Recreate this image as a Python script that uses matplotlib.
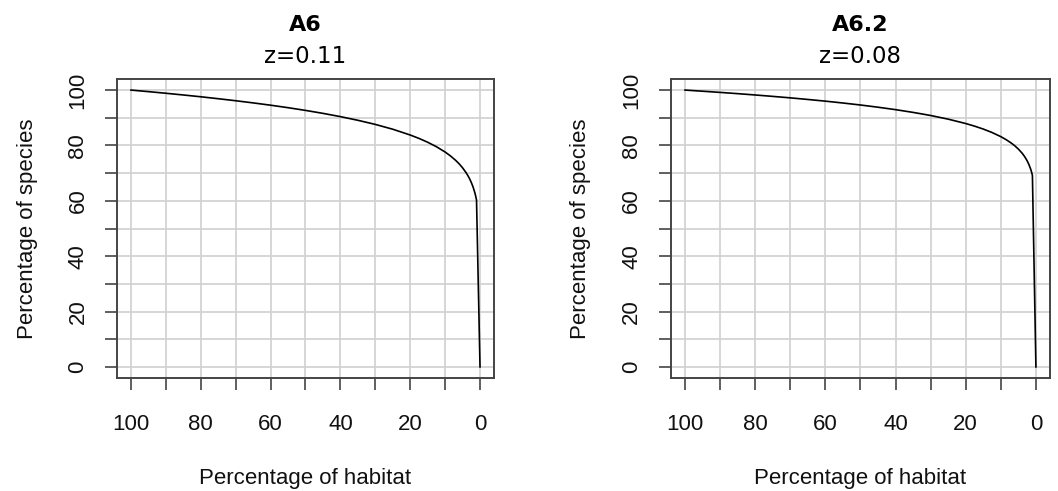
import matplotlib.pyplot as plt

plt.rcParams['font.family'] = ['Liberation Sans', 'DejaVu Sans']

# percentage of habitat (x) and percentage of species (y)
habitat = [100, 95, 90, 85, 80, 75, 70, 65, 60, 55, 50, 45, 40, 35, 30, 25, 20,
           17.5, 15, 12.5, 10, 8.5, 7, 6, 5, 4, 3.5, 3, 2.5, 2, 1.5, 1.25, 1, 0]
species_a6 = [100, 99.44, 98.85, 98.23, 97.58, 96.88, 96.15, 95.37, 94.54, 93.64,
              92.66, 91.59, 90.41, 89.09, 87.60, 85.86, 83.77, 82.55, 81.16, 79.55,
              77.63, 76.25, 74.64, 73.39, 71.93, 70.18, 69.16, 68.00, 66.64, 65.03,
              63.00, 61.75, 60.26, 0]
species_a62 = [100, 99.59, 99.16, 98.71, 98.23, 97.72, 97.19, 96.61, 96.00, 95.33,
               94.61, 93.81, 92.93, 91.94, 90.82, 89.50, 87.92, 86.98, 85.92, 84.67,
               83.18, 82.10, 80.84, 79.85, 78.69, 77.30, 76.48, 75.54, 74.45, 73.13,
               71.46, 70.43, 69.18, 0]

titles = ["A6", "A6.2"]
subtitles = ["z=0.11", "z=0.08"]
series = [species_a6, species_a62]

tick_vals = list(range(0, 101, 10))
tick_labels = [str(v) if v % 20 == 0 else "" for v in tick_vals]

fig = plt.figure(figsize=(10.58, 4.91), dpi=100)

# axes boxes in figure fractions
boxes = [[0.1106, 0.2301, 0.3563, 0.609],
         [0.6342, 0.2301, 0.3582, 0.609]]

for i in range(2):
    ax = fig.add_axes(boxes[i])
    ax.plot(habitat, series[i], color="black", lw=1.2, zorder=3)

    ax.set_xlim(104, -4)
    ax.set_ylim(-4, 104)

    ax.set_xticks(tick_vals)
    ax.set_xticklabels(tick_labels)
    ax.set_yticks(tick_vals)
    ax.set_yticklabels(tick_labels, rotation=90, va="center")

    ax.grid(True, color="#d0d0d0", lw=1.2)
    ax.set_axisbelow(True)

    ax.tick_params(axis="both", length=8.6, width=1.2, color="#444444",
                   labelsize=16, labelcolor="#111111")
    ax.tick_params(axis="x", pad=17)
    ax.tick_params(axis="y", pad=12)

    for s in ax.spines.values():
        s.set_color("#444444")
        s.set_linewidth(1.4)

    ax.text(0.5, 1.181, titles[i], transform=ax.transAxes, ha="center", va="center",
            fontsize=16, fontweight="bold", family=["DejaVu Sans"])
    ax.text(0.5, 1.074, subtitles[i], transform=ax.transAxes, ha="center", va="center",
            fontsize=16.5, family=["DejaVu Sans"])

    ax.text(0.5, -0.335, "Percentage of habitat", transform=ax.transAxes,
            ha="center", va="center", fontsize=16, color="#111111")
    ax.text(-0.238, 0.5, "Percentage of species", transform=ax.transAxes,
            ha="center", va="center", rotation=90, fontsize=16, color="#111111")

plt.savefig("out.png", dpi=100)
